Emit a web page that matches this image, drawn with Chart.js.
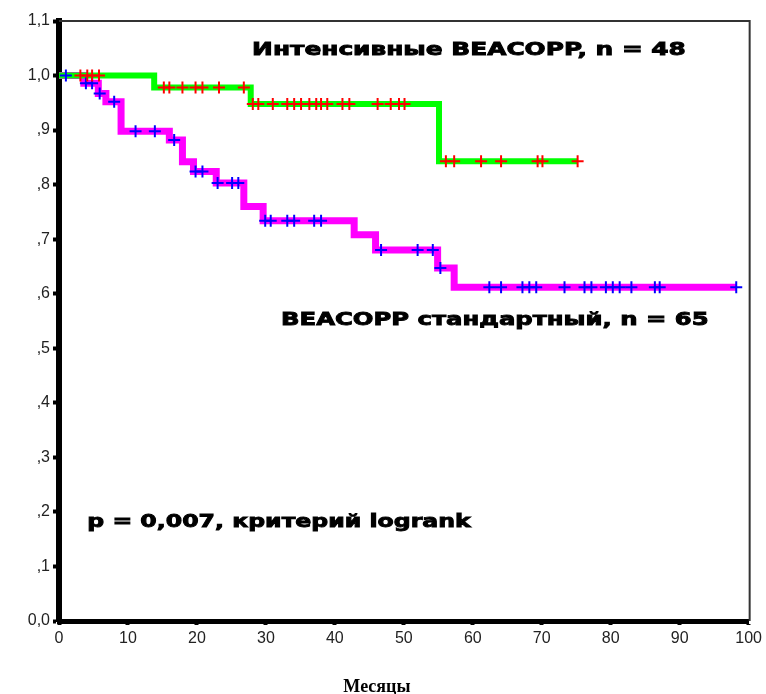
<!DOCTYPE html>
<html>
<head>
<meta charset="utf-8">
<script src="https://cdn.jsdelivr.net/npm/chart.js@4.4.1/dist/chart.umd.min.js"></script>
<style>
  html, body { margin:0; padding:0; background:#fff; }
  #wrap { width:766px; height:694px; }
</style>
</head>
<body>
<div id="wrap"><canvas id="km"></canvas></div>
<script>
// Интенсивные BEACOPP (n = 48): месяц события и выживаемость после него
const intTimes = [0, 13.8, 27.8, 55.1];
const intSurv  = [1.0, 0.978, 0.948, 0.843];
const intEnd = 75.2;
const intCensored = [3.1, 4.1, 4.8, 5.8, 15.2, 16.0, 17.9, 19.8, 20.8, 23.2, 26.8,
  28.1, 28.9, 31.0, 33.1, 34.1, 35.1, 36.3, 37.3, 38.0, 38.9, 41.1, 42.1, 46.2, 48.1, 49.3, 50.1,
  56.1, 57.3, 61.2, 64.1, 69.4, 70.1, 75.2];

// BEACOPP стандартный (n = 65)
const stdTimes = [0, 3.6, 5.7, 6.8, 9.0, 16.0, 17.9, 19.5, 22.8, 26.8, 29.6, 42.8, 45.9, 54.9, 57.3];
const stdSurv  = [1.0, 0.986, 0.967, 0.952, 0.898, 0.882, 0.842, 0.824, 0.803, 0.760, 0.734, 0.708, 0.680, 0.647, 0.612];
const stdEnd = 98.2;
const stdCensored = [1.0, 3.9, 4.8, 5.9, 8.0, 11.1, 13.9, 16.7, 19.8, 20.8, 23.0, 25.1, 26.0,
  29.9, 30.7, 33.1, 34.1, 37.0, 38.0, 46.7, 52.0, 54.2, 55.3,
  62.4, 64.1, 67.2, 68.2, 69.2, 73.3, 76.2, 77.2, 79.3, 80.3, 81.3, 83.0, 86.4, 87.1, 98.2];

const yTickLabels = ['0,0', ',1', ',2', ',3', ',4', ',5', ',6', ',7', ',8', ',9', '1,0', '1,1'];

// подписи внутри графика (в единицах осей)
const notes = [
  { text: 'Интенсивные BEACOPP, n = 48', x0: 28.0, x1: 90.9, y: 1.047 },
  { text: 'BEACOPP стандартный, n = 65', x0: 32.2, x1: 94.2, y: 0.552 },
  { text: 'p = 0,007, критерий logrank', x0: 4.1, x1: 59.7, y: 0.180 }
];

const survAt = (times, surv, t) => {
  let s = surv[0];
  times.forEach((tt, i) => { if (tt <= t) s = surv[i]; });
  return s;
};
const stepPoints = (times, surv, end) =>
  times.map((t, i) => ({ x: t, y: surv[i] })).concat([{ x: end, y: surv[surv.length - 1] }]);
const censorPoints = (times, surv, cens) => cens.map(t => ({ x: t, y: survAt(times, surv, t) }));

const extras = {
  id: 'extras',
  beforeDatasetsDraw(chart) {
    const { ctx, chartArea: a } = chart;
    ctx.save();
    ctx.strokeStyle = '#333';
    ctx.lineWidth = 2;
    ctx.beginPath();
    ctx.moveTo(a.left, a.top);
    ctx.lineTo(a.right + 1, a.top);
    ctx.lineTo(a.right + 1, a.bottom);
    ctx.stroke();
    ctx.restore();
  },
  afterDraw(chart) {
    const { ctx, chartArea: a, scales: { x, y } } = chart;
    ctx.save();
    ctx.fillStyle = '#000';
    ctx.strokeStyle = '#000';
    ctx.lineWidth = 0.9;
    ctx.textBaseline = 'middle';
    ctx.font = 'bold 18px "DejaVu Sans"';
    notes.forEach(n => {
      const px0 = x.getPixelForValue(n.x0), px1 = x.getPixelForValue(n.x1);
      const w = ctx.measureText(n.text).width;
      ctx.save();
      ctx.translate(px0, y.getPixelForValue(n.y));
      ctx.scale((px1 - px0) / w, 1);
      ctx.fillText(n.text, 0, 0);
      ctx.strokeText(n.text, 0, 0);
      ctx.restore();
    });
    ctx.font = 'bold 18px "Liberation Serif"';
    ctx.textAlign = 'center';
    ctx.fillText('Месяцы', x.getPixelForValue(46.1), a.bottom + 66);
    ctx.restore();
  }
};

new Chart(document.getElementById('km'), {
  type: 'line',
  data: {
    datasets: [
      { data: censorPoints(intTimes, intSurv, intCensored), showLine: false, pointStyle: 'cross',
        pointRadius: 6, borderColor: '#ff0000', borderWidth: 2, order: 0 },
      { data: censorPoints(stdTimes, stdSurv, stdCensored), showLine: false, pointStyle: 'cross',
        pointRadius: 6, borderColor: '#0000ff', borderWidth: 2, order: 0 },
      { data: stepPoints(intTimes, intSurv, intEnd), stepped: true, borderColor: '#00ff00',
        borderWidth: 6, pointRadius: 0, fill: false, order: 1 },
      { data: stepPoints(stdTimes, stdSurv, stdEnd), stepped: true, borderColor: '#ff00ff',
        borderWidth: 7, pointRadius: 0, fill: false, order: 2 }
    ]
  },
  options: {
    responsive: true, maintainAspectRatio: false, animation: false,
    layout: { padding: { top: 21, right: 16, left: 0, bottom: 0 } },
    plugins: { legend: { display: false }, tooltip: { enabled: false } },
    scales: {
      x: {
        type: 'linear', min: 0, max: 100,
        afterFit: s => { s.height = 73; },
        ticks: { stepSize: 10, padding: 4, color: '#222', font: { family: 'Liberation Sans', size: 16 } },
        grid: { drawOnChartArea: false, drawTicks: true, tickLength: 4, tickWidth: 4, tickColor: '#000' },
        border: { color: '#000', width: 5 }
      },
      y: {
        min: 0, max: 1.1,
        afterFit: s => { s.width = 59; },
        ticks: { stepSize: 0.1, padding: 3, color: '#222', font: { family: 'Liberation Sans', size: 16 },
          callback: (v, i) => yTickLabels[i] },
        grid: { drawOnChartArea: false, drawTicks: true, tickLength: 6, tickWidth: 4, tickColor: '#000' },
        border: { color: '#000', width: 6 }
      }
    }
  },
  plugins: [extras]
});
</script>
</body>
</html>
